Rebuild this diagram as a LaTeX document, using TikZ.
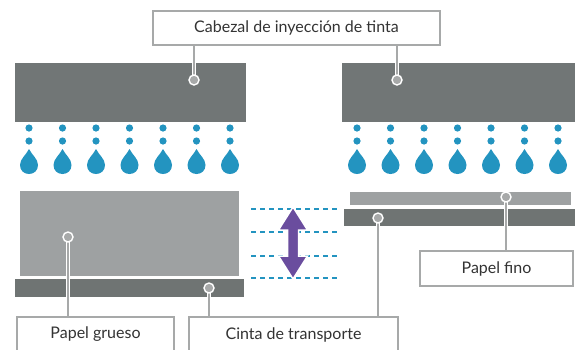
\documentclass[tikz,border=0pt]{standalone}
\usepackage{fontspec}
\setmainfont{Lato}
\definecolor{headgray}{HTML}{717676}
\definecolor{papergray}{HTML}{9EA1A2}
\definecolor{beltgray}{HTML}{6F7473}
\definecolor{linegray}{HTML}{A7A9A9}
\definecolor{inkblue}{HTML}{2394C0}
\definecolor{arrowpurple}{HTML}{6A4D9E}
\definecolor{txt}{HTML}{333333}
\begin{document}
\begin{tikzpicture}[x=1pt,y=-1pt,
  labelbox/.style={draw=linegray, line width=2.4pt, fill=white, inner sep=0pt,
    font=\fontsize{16}{18}\selectfont, text=txt},
  conn/.style={draw=white, double=linegray, line width=1.2pt, double distance=2pt},
  marker/.style={circle, fill=linegray, draw=white, line width=1.4pt, minimum size=10pt, inner sep=0pt},
  dashline/.style={draw=inkblue, line width=2.4pt, dash pattern=on 5pt off 4pt},
  dot/.style={fill=inkblue},
]
\useasboundingbox (0,0) rectangle (580,349);
\clip (0,0) rectangle (580,349);

% print heads
\fill[headgray] (15,63) rectangle (246,122);
\fill[headgray] (342,63) rectangle (575,122);

% ink drops
\foreach \cx in {29,62.5,96,129.5,163,196.5,230, 357,390.5,424,457.5,491,524.5,558}{
  \fill[dot] (\cx,128) circle (3.6);
  \fill[dot] (\cx,141) circle (3.6);
  \fill[inkblue] (\cx,149) .. controls (\cx+3,155) and (\cx+9,159) .. (\cx+9,165)
    .. controls (\cx+9,170.5) and (\cx+5,174) .. (\cx,174)
    .. controls (\cx-5,174) and (\cx-9,170.5) .. (\cx-9,165)
    .. controls (\cx-9,159) and (\cx-3,155) .. (\cx,149) -- cycle;
}

% thick paper and belt
\fill[papergray] (20,191) rectangle (239,276);
\fill[beltgray] (15,279) rectangle (244,297);

% thin paper and belt
\fill[papergray] (350,192) rectangle (571,205);
\fill[beltgray] (344,209) rectangle (575,226);

% dashed levels
\foreach \yy in {209,232,256,278}{
  \draw[dashline] (251,\yy) -- (340,\yy);
}
% purple double arrow
\filldraw[fill=arrowpurple, draw=white, line width=1.5pt]
  (293,207) -- (307.5,230) -- (298.5,230) -- (298.5,256) -- (307.5,256)
  -- (293,279) -- (278.5,256) -- (287.5,256) -- (287.5,230) -- (278.5,230) -- cycle;

% marker coordinates
\coordinate (mh1) at (194,80);
\coordinate (mh2) at (397,80);
\coordinate (mpg) at (68,237);
\coordinate (mb1) at (209,288);
\coordinate (mb2) at (378,218);
\coordinate (mpf) at (506,197);

% label boxes (positions)
\node[labelbox, minimum width=287pt, minimum height=34pt] (head) at (296.5,28) {Cabezal de inyección de tinta};
\node[labelbox, minimum width=157pt, minimum height=35pt] (grueso) at (95.5,334.5) {Papel grueso};
\node[labelbox, minimum width=209pt, minimum height=35pt] (cinta) at (293.5,334.5) {Cinta de transporte};
\node[labelbox, minimum width=153pt, minimum height=35pt] (fino) at (496.5,268.5) {Papel fino};

% connectors
\draw[conn] (mh1) -- (mh1 |- head.south);
\draw[conn] (mh2) -- (mh2 |- head.south);
\draw[conn] (mpg) -- (mpg |- grueso.north);
\draw[conn] (mb1) -- (mb1 |- cinta.north);
\draw[conn] (mb2) -- (mb2 |- cinta.north);
\draw[conn] (mpf) -- (mpf |- fino.north);

% redraw boxes over connector ends
\node[labelbox, minimum width=287pt, minimum height=34pt] at (head) {Cabezal de inyección de tinta};
\node[labelbox, minimum width=157pt, minimum height=35pt] at (grueso) {Papel grueso};
\node[labelbox, minimum width=209pt, minimum height=35pt] at (cinta) {Cinta de transporte};
\node[labelbox, minimum width=153pt, minimum height=35pt] at (fino) {Papel fino};

% markers
\foreach \m in {mh1,mh2,mpg,mb1,mb2,mpf}{
  \node[marker] at (\m) {};
}
\end{tikzpicture}
\end{document}
